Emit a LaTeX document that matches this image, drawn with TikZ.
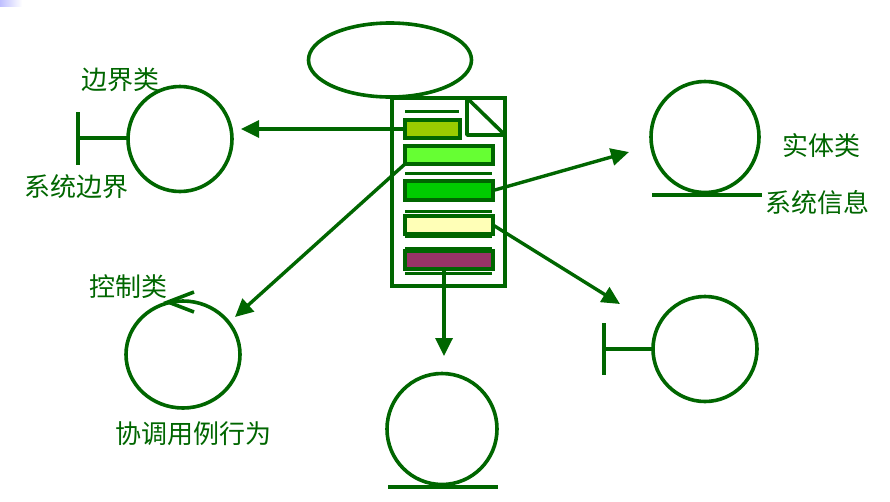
\documentclass[tikz,border=0pt]{standalone}
\usepackage{fontspec}
\newfontfamily\cjk{Noto Sans CJK SC}
\usetikzlibrary{arrows.meta,shapes.geometric}
\definecolor{dg}{HTML}{006600}
\tikzset{
  x=1pt,y=-1pt,
  ring/.style={ellipse,draw=dg,line width=3.6pt,inner sep=0pt,outer sep=0pt,minimum width=#1},
  barbox/.style={draw=dg,line width=3.4pt,inner sep=0pt,outer sep=0pt,anchor=north west},
  rulebar/.style={dg,line width=3pt},
  conn/.style={dg,line width=3.4pt,-{Triangle[length=18pt,width=17pt]}},
  stem/.style={dg,line width=3.6pt},
  lbl/.style={text=dg,font=\cjk\fontsize{26}{28}\selectfont,inner sep=0pt},
}
\begin{document}
\begin{tikzpicture}
\useasboundingbox (0,0) rectangle (890,501);
\shade[left color=blue!25!white,right color=white,draw=none] (0,0) rectangle (22,6);

% ellipse above the document
\node[ellipse,draw=dg,line width=3.6pt,outer sep=0pt,minimum width=163pt,minimum height=74pt,inner sep=0pt] (top) at (390,60) {};

% document page
\node[draw=dg,fill=white,line width=3.6pt,outer sep=0pt,minimum width=113pt,minimum height=188pt,inner sep=0pt,anchor=north west] (page) at (392,98) {};
\coordinate (foldA) at (467,98);
\coordinate (foldB) at (467,135);
\coordinate (foldC) at (505,135);
\draw[stem,line join=bevel] (foldA) -- (foldB) -- (foldC) -- cycle;

% text rules
\coordinate (r1a) at (405,111); \coordinate (r1b) at (459,111);
\coordinate (r2a) at (405,173); \coordinate (r2b) at (492,173);
\coordinate (r3a) at (405,211); \coordinate (r3b) at (492,211);
\coordinate (r4a) at (405,236); \coordinate (r4b) at (492,236);
\coordinate (r5a) at (405,248); \coordinate (r5b) at (492,248);
\coordinate (r6a) at (405,273); \coordinate (r6b) at (492,273);
\draw[rulebar] (r1a) -- (r1b);
\draw[rulebar] (r2a) -- (r2b);
\draw[rulebar] (r3a) -- (r3b);
\draw[rulebar] (r4a) -- (r4b);
\draw[rulebar] (r5a) -- (r5b);
\draw[rulebar] (r6a) -- (r6b);

% coloured bars
\node[barbox,fill={rgb,255:red,153;green,204;blue,0},minimum width=55pt,minimum height=18pt] (bar1) at (405,120) {};
\node[barbox,fill={rgb,255:red,102;green,255;blue,51},minimum width=88pt,minimum height=18pt] (bar2) at (405,146) {};
\node[barbox,fill={rgb,255:red,0;green,204;blue,0},minimum width=88pt,minimum height=19pt] (bar3) at (405,181) {};
\node[barbox,fill={rgb,255:red,255;green,255;blue,183},minimum width=88pt,minimum height=18pt] (bar4) at (405,216) {};
\node[barbox,fill={rgb,255:red,153;green,51;blue,102},minimum width=88pt,minimum height=18pt] (bar5) at (405,251) {};

% circles
\node[ring=104pt,minimum height=105pt] (cL) at (180,139) {};
\node[ring=108pt,minimum height=111pt] (cR) at (705,137) {};
\node[ring=114pt,minimum height=107pt] (cC) at (183,354.5) {};
\node[ring=110pt,minimum height=111pt] (cB) at (442,429) {};
\node[ring=104pt,minimum height=105pt] (cD) at (705,349) {};

% connectors
\coordinate (tipL) at (241,129);
\coordinate (tipC) at (235,317);
\coordinate (tipR) at (629,152);
\coordinate (tipD) at (620,304);
\coordinate (tipB) at (444,356);
\draw[conn] (bar1.west) -- (tipL);
\draw[conn] (bar2.south west) -- (tipC);
\draw[conn] (bar3.east) -- (tipR);
\draw[conn] (bar4.east) -- (tipD);
\draw[conn] (bar5.south -| tipB) -- (tipB);

% boundary stems
\coordinate (t1a) at (78,112); \coordinate (t1b) at (78,165); \coordinate (t1m) at (78,138);
\draw[stem] (t1a) -- (t1b);
\draw[stem] (t1m) -- (t1m -| cL.west);
\coordinate (t2a) at (604,323); \coordinate (t2b) at (604,375); \coordinate (t2m) at (604,349);
\draw[stem] (t2a) -- (t2b);
\draw[stem] (t2m) -- (cD.west);

% entity baselines
\coordinate (b1a) at (652,195); \coordinate (b1b) at (762,195);
\draw[stem] (b1a) -- (b1b);
\coordinate (b2a) at (388,487); \coordinate (b2b) at (498,487);
\draw[stem] (b2a) -- (b2b);

% control arrow mark
\coordinate (m1) at (194,292); \coordinate (m2) at (168,302); \coordinate (m3) at (194,312);
\draw[stem] (m1) -- (m2) -- (m3);

% labels
\node[lbl] (l1) at (120,80) {边界类};
\node[lbl] (l2) at (76,187) {系统边界};
\node[lbl] (l3) at (821,146) {实体类};
\node[lbl] (l4) at (817,203) {系统信息};
\node[lbl] (l5) at (128,287) {控制类};
\node[lbl] (l6) at (193,434) {协调用例行为};
\end{tikzpicture}
\end{document}
